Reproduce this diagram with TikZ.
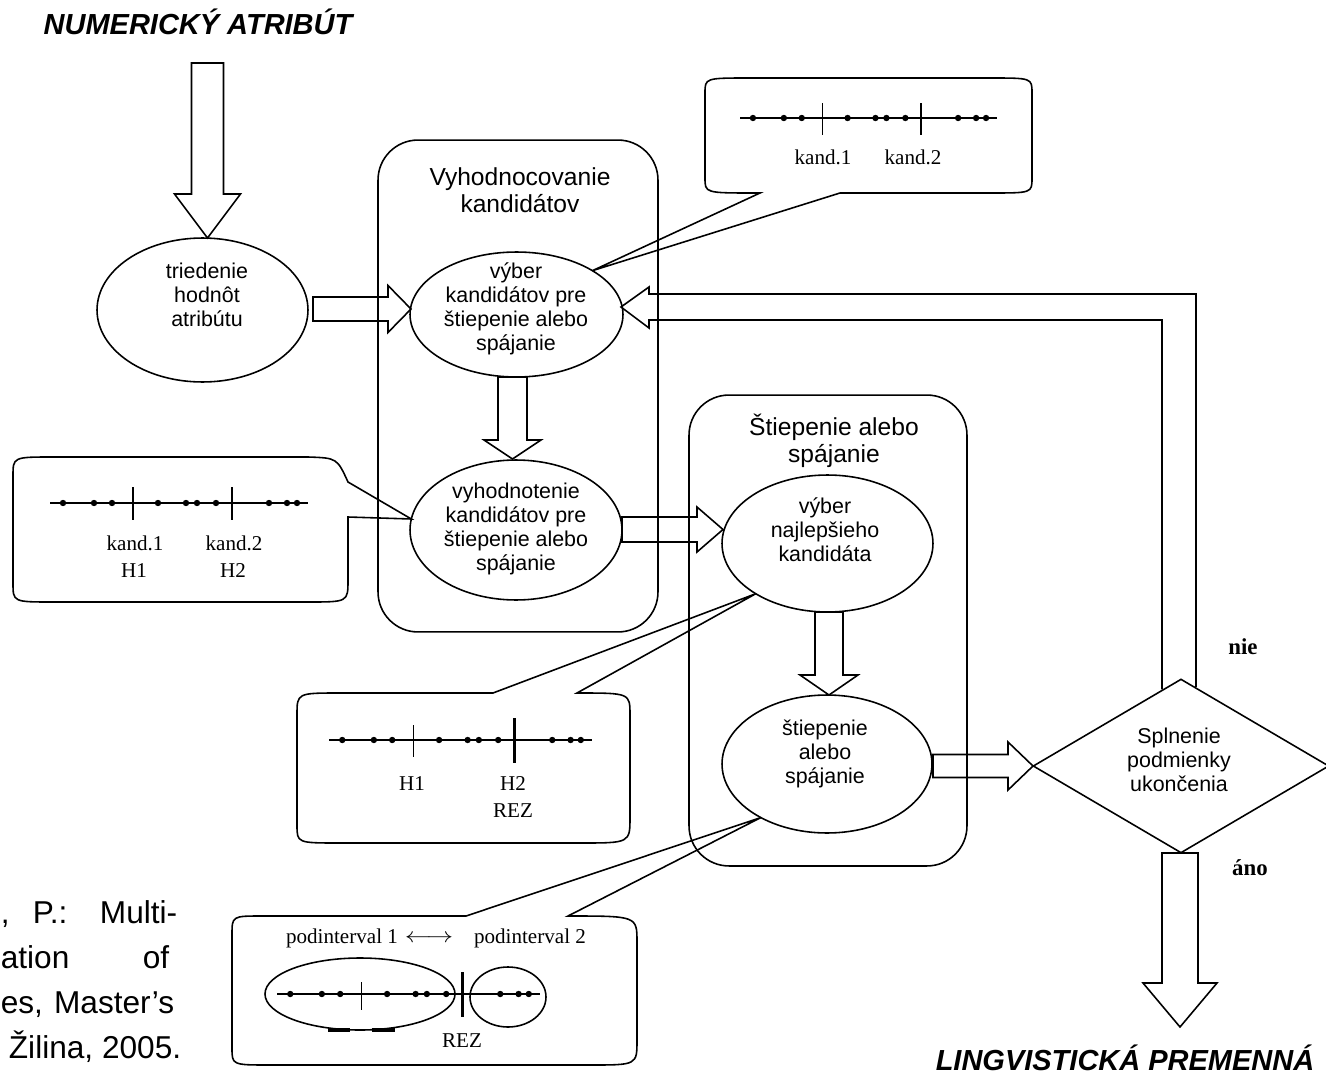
\documentclass[tikz,border=0pt]{standalone}
\usepackage{fontspec}
\setmainfont{Liberation Sans}
\newfontfamily\labelserif{Liberation Serif}
\usetikzlibrary{shapes.geometric,calc}

% block arrow pointing right: start x, head base x, tip x, axis y, shaft half width, head half width
\newcommand\rightblock[6]{%
  \draw[blockarrow] (#1,#4-#5) -- (#2,#4-#5) -- (#2,#4-#6) -- (#3,#4) -- (#2,#4+#6) -- (#2,#4+#5) -- (#1,#4+#5) -- cycle;}
% block arrow pointing down: axis x, start y, head base y, tip y, shaft half width, head half width
\newcommand\downblock[6]{%
  \draw[blockarrow] (#1-#5,#2) -- (#1-#5,#3) -- (#1-#6,#3) -- (#1,#4) -- (#1+#6,#3) -- (#1+#5,#3) -- (#1+#5,#2) -- cycle;}
% number axis with sample values: left x, y, length
\newcommand\axisdots[3]{%
  \draw[line width=0.8pt] (#1,#2) -- ++(#3,0);
  \foreach \d in {13,44,62,108,136,147,166,219,237,247}
    \fill ({#1+\d/258*#3},#2) circle (3.2);}

\begin{document}
\begin{tikzpicture}[x=0.02cm, y=-0.02cm, line width=0.9pt,
  oval/.style={draw, ellipse, inner sep=0pt, outer sep=0pt},
  group/.style={draw, rounded corners=0.8cm, inner sep=0pt},
  blockarrow/.style={draw, line join=miter},
  oval text/.style={align=center, inner sep=0pt, font=\fontsize{12.2}{13.6}\selectfont},
  group title/.style={align=center, inner sep=0pt, font=\fontsize{14}{15.3}\selectfont},
  heading/.style={inner sep=0pt, font=\fontsize{16.5}{19}\selectfont\bfseries\itshape},
  tag/.style={inner sep=0pt, font=\labelserif\fontsize{12}{14}\selectfont},
  answer/.style={inner sep=0pt, font=\labelserif\fontsize{13}{15}\selectfont\bfseries},
  source/.style={inner sep=0pt, font=\fontsize{18}{21}\selectfont},
  cut/.style={line width=2.2pt}]

\useasboundingbox (0,0) rectangle (1326,1075);

% ---------- headings ----------
\node[heading] (inattr) at (198,22) {NUMERICKÝ ATRIBÚT};
\node[heading] (outvar) at (1125,1058) {LINGVISTICKÁ PREMENNÁ};

% ---------- group frames ----------
\node[group, minimum width=5.6cm, minimum height=9.84cm] (grpA) at (518,386) {};
\node[group, minimum width=5.56cm, minimum height=9.42cm] (grpB) at (828,630.5) {};
\node[group title] (grpAt) at (520,190) {Vyhodnocovanie\\kandidátov};
\node[group title] (grpBt) at (834,441) {Štiepenie alebo\\spájanie};

% ---------- process ovals ----------
\node[oval, minimum width=4.22cm, minimum height=2.88cm] (e1) at (202.5,310) {};
\node[oval, minimum width=4.26cm, minimum height=2.5cm]  (e2) at (516.5,314.5) {};
\node[oval, minimum width=4.24cm, minimum height=2.8cm]  (e3) at (516,530) {};
\node[oval, minimum width=4.22cm, minimum height=2.74cm] (e4) at (827.5,543.5) {};
\node[oval, minimum width=4.2cm,  minimum height=2.76cm] (e5) at (827,764) {};
\node[draw, diamond, inner sep=0pt, minimum width=5.92cm, minimum height=3.48cm] (dec) at (1181,766) {};

\node[oval text] (e1t) at (207,295) {triedenie\\hodnôt\\atribútu};
\node[oval text] (e2t) at (516,309) {výber\\kandidátov pre\\štiepenie alebo\\spájanie};
\node[oval text] (e3t) at (516,529) {vyhodnotenie\\kandidátov pre\\štiepenie alebo\\spájanie};
\node[oval text] (e4t) at (825,530) {výber\\najlepšieho\\kandidáta};
\node[oval text] (e5t) at (825,754) {štiepenie\\alebo\\spájanie};
\node[oval text] (dect) at (1179,760) {Splnenie\\podmienky\\ukončenia};

% ---------- block arrows ----------
\downblock{207.5}{63}{194}{238}{16}{33}
\rightblock{313}{388}{411}{309}{12}{23.5}
\downblock{512.5}{377}{440}{459}{14.5}{28.5}
\rightblock{622}{697}{723}{529.5}{12.5}{22.5}
\downblock{829}{612}{675}{695}{14}{29}
\rightblock{933}{1008}{1033}{766}{11.5}{24}
\downblock{1180}{853}{983}{1027}{18}{37}

% feedback loop back to candidate selection
\draw[blockarrow] ($(dec.north)!0.101!(dec.east)$) -- (1196,294) -- (649,294) -- (649,287)
  -- (621,307) -- (649,328) -- (649,320) -- (1162,320) -- ($(dec.north)!0.128!(dec.west)$);

\node[answer] (no)  at (1243,647) {nie};
\node[answer] (yes) at (1250,868) {áno};

% ---------- callout: candidates ----------
\draw (705,178) .. controls (705,193) .. (755,193) -- (760,193) -- (e2.30) -- (840,193)
  -- (990,193) .. controls (1032,193) .. (1032,178) -- (1032,93) .. controls (1032,78) .. (990,78)
  -- (750,78) .. controls (705,78) .. (705,93) -- cycle;
\axisdots{740}{118}{257}
\draw (822.7,103) -- (822.7,135);
\draw (921,103) -- (921,135);
\node[tag] (tc1) at (823,157) {kand.1};
\node[tag] (tc2) at (913,157) {kand.2};

% ---------- callout: evaluated candidates ----------
\draw (13,476) .. controls (13,457) .. (53,457) -- (308,457) .. controls (337,458) .. (348,482)
  -- (e3.174) -- (348,517) -- (348,580) .. controls (348,602) .. (308,602) -- (53,602)
  .. controls (13,602) .. (13,583) -- cycle;
\axisdots{50}{503}{258}
\draw (133,487) -- (133,520);
\draw (232,487) -- (232,520);
\node[tag] (lc1) at (135,543) {kand.1};
\node[tag] (lc2) at (234,543) {kand.2};
\node[tag] (lh1) at (134,571) {H1};
\node[tag] (lh2) at (233,571) {H2};

% ---------- callout: best cut ----------
\draw (297,715) .. controls (297,693) .. (340,693) -- (493,693) -- (e4.215) -- (577,693)
  .. controls (630,693) .. (630,715) -- (630,817) .. controls (630,843) .. (580,843) -- (340,843)
  .. controls (297,843) .. (297,825) -- cycle;
\axisdots{329}{740}{263}
\draw (413.6,725) -- (413.6,757);
\draw[cut] (514.5,718) -- (514.5,763);
\node[tag] (mh1) at (412,784) {H1};
\node[tag] (mh2) at (513,784) {H2};
\node[tag] (mrez) at (513,811) {REZ};

% ---------- callout: resulting subintervals ----------
\draw (232,935) .. controls (232,916) .. (262,916) -- (466,916) -- (e5.219) -- (568,916)
  .. controls (637,916) .. (637,942) -- (637,1040) .. controls (637,1065) .. (590,1065) -- (270,1065)
  .. controls (232,1065) .. (232,1048) -- cycle;
\node[tag] (bp1) at (342,938) {podinterval 1};
\node[tag] (bpa) at (429,939) {\scalebox{1.25}[1]{$\longleftrightarrow$}};
\node[tag] (bp2) at (530,938) {podinterval 2};
\draw (360,994) ellipse [x radius=95, y radius=36];
\draw (508,997) ellipse [x radius=38, y radius=30];
\axisdots{277}{994}{263}
\draw (361.6,982) -- (361.6,1010);
\draw[cut] (462.5,972) -- (462.5,1017);
\draw[line width=2.4pt] (328,1030) -- (350,1030);
\draw[line width=2.4pt] (372,1030) -- (395,1030);
\node[tag] (brez) at (462,1041) {REZ};

% ---------- source note at the left margin ----------
\node[source, anchor=base west] (s1a) at (0,923) {,};
\node[source, anchor=base west] (s1b) at (32,923) {P.:};
\node[source, anchor=base east] (s1c) at (178,923) {Multi-};
\node[source, anchor=base west] (s2a) at (0,968) {ation};
\node[source, anchor=base east] (s2b) at (170,968) {of};
\node[source, anchor=base west] (s3a) at (0,1013) {es,};
\node[source, anchor=base east] (s3b) at (175,1013) {Master’s};
\node[source, anchor=base east] (s4) at (182,1058) {Žilina, 2005.};

\end{tikzpicture}
\end{document}
